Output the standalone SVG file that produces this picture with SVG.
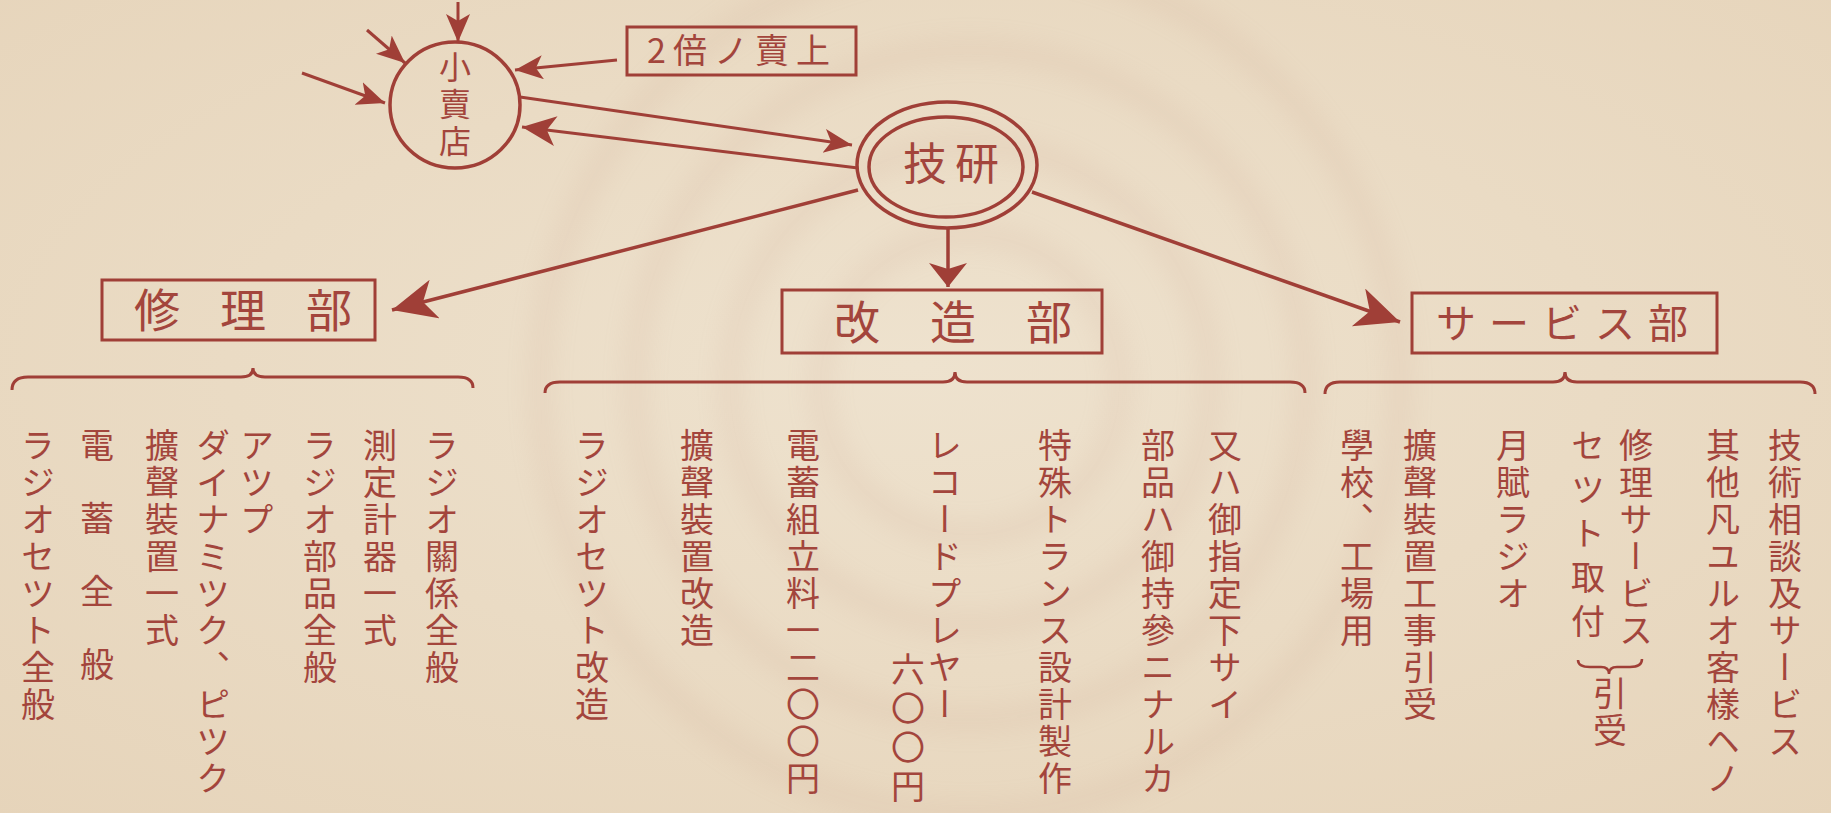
<svg xmlns="http://www.w3.org/2000/svg" width="1831" height="813" viewBox="0 0 1831 813">
<defs>
<radialGradient id="bg" cx="0.5" cy="0.45" r="0.75">
<stop offset="0" stop-color="#eee2ce"/>
<stop offset="1" stop-color="#e6d4ba"/>
</radialGradient>
<filter id="blur" x="-20%" y="-20%" width="140%" height="140%"><feGaussianBlur stdDeviation="12"/></filter>
<marker id="aL" markerUnits="userSpaceOnUse" markerWidth="46" markerHeight="42" refX="44" refY="20" orient="auto" viewBox="0 0 46 42">
<path d="M0,0 L44,20 L0,40 L12,20 z" fill="#a03f37"/>
</marker>
<marker id="aM" markerUnits="userSpaceOnUse" markerWidth="36" markerHeight="32" refX="34" refY="15" orient="auto" viewBox="0 0 36 32">
<path d="M0,0 L34,15 L0,30 L9,15 z" fill="#a03f37"/>
</marker>
<marker id="aS" markerUnits="userSpaceOnUse" markerWidth="30" markerHeight="26" refX="28" refY="12" orient="auto" viewBox="0 0 30 26">
<path d="M0,0 L28,12 L0,24 L7,12 z" fill="#a03f37"/>
</marker>
<marker id="aV" markerUnits="userSpaceOnUse" markerWidth="26" markerHeight="40" refX="24" refY="19" orient="auto" viewBox="0 0 26 40">
<path d="M0,0 L24,19 L0,38 L6,19 z" fill="#a03f37"/>
</marker>
</defs>
<style>
.ln { stroke:#a03f37; stroke-width:3; fill:none; }
.lw { stroke-width:3.5; }
.bx { stroke:#a03f37; stroke-width:3; fill:none; }
.el { stroke:#a03f37; stroke-width:3.5; fill:none; }
.t { font-family:"Noto Sans CJK JP","Noto Sans CJK SC",sans-serif; fill:#a3453c; }
.lab { font-size:46px; }
.v { writing-mode:vertical-rl; font-size:34px; letter-spacing:3px; }
</style>
<rect x="0" y="0" width="1831" height="813" fill="url(#bg)"/>
<g opacity="0.11" filter="url(#blur)" fill="none" stroke="#c0907a" stroke-width="24">
<circle cx="970" cy="385" r="150"/>
<circle cx="970" cy="385" r="240"/>
<circle cx="970" cy="385" r="335"/>
<circle cx="970" cy="385" r="430"/>
</g>

<g id="connectors">
<line class="ln" x1="458" y1="2" x2="458" y2="42" marker-end="url(#aS)"/>
<line class="ln" x1="367" y1="30" x2="405" y2="63" marker-end="url(#aS)"/>
<line class="ln" x1="302" y1="73" x2="385" y2="103" marker-end="url(#aS)"/>
<line class="ln" x1="617" y1="60" x2="515" y2="70" marker-end="url(#aS)"/>
<line class="ln" x1="520" y1="97" x2="852" y2="145" marker-end="url(#aS)"/>
<line class="ln" x1="858" y1="168" x2="522" y2="127" marker-end="url(#aM)"/>
<line class="ln lw" x1="858" y1="190" x2="392" y2="310" marker-end="url(#aL)"/>
<line class="ln lw" x1="948" y1="228" x2="948" y2="287" marker-end="url(#aV)"/>
<line class="ln lw" x1="1032" y1="192" x2="1400" y2="322" marker-end="url(#aL)"/>
</g>

<g id="n-kouriten">
<ellipse class="el" cx="455" cy="105" rx="65" ry="63"/>
<text class="t v" x="455" y="51" style="font-size:32px;letter-spacing:5px">小賣店</text>
</g>

<g id="n-nibai">
<rect class="bx" x="627" y="27" width="229" height="48"/>
<text class="t" x="742" y="63" text-anchor="middle" style="font-size:34px;letter-spacing:7px">2倍ノ賣上</text>
</g>

<g id="n-giken">
<ellipse class="el" cx="947" cy="165" rx="90" ry="63"/>
<ellipse class="el" cx="946" cy="167" rx="77" ry="50"/>
<text class="t" x="955" y="180" text-anchor="middle" style="font-size:44px;letter-spacing:8px">技研</text>
</g>

<g id="n-shuuri">
<rect class="bx" x="102" y="280" width="273" height="60"/>
<text class="t lab" x="134" y="327" style="letter-spacing:40px">修理部</text>
</g>

<g id="n-kaizou">
<rect class="bx" x="782" y="290" width="320" height="63"/>
<text class="t lab" x="834" y="339" style="letter-spacing:50px">改造部</text>
</g>

<g id="n-service">
<rect class="bx" x="1412" y="293" width="305" height="60"/>
<text class="t" x="1436" y="338" style="font-size:40px;letter-spacing:13px">サービス部</text>
</g>

<g id="list-shuuri">
<path class="ln" d="M12,390 Q12,377 28,377 L241,377 Q253,377 253,368 Q253,377 265,377 L458,377 Q473,377 473,388"/>
<text class="t v" x="442" y="428">ラジオ關係全般</text>
<text class="t v" x="380" y="428">測定計器一式</text>
<text class="t v" x="320" y="428">ラジオ部品全般</text>
<text class="t v" x="257" y="428">アツプ</text>
<text class="t v" x="213" y="428">ダイナミツク、ピツク</text>
<text class="t v" x="162" y="428">擴聲裝置一式</text>
<text class="t v" x="97" y="428" style="letter-spacing:39px">電蓄全般</text>
<text class="t v" x="38" y="428">ラジオセツト全般</text>
</g>

<g id="list-kaizou">
<path class="ln" d="M545,393 Q545,382 560,382 L943,382 Q955,382 955,372 Q955,382 967,382 L1290,382 Q1305,382 1305,393"/>
<text class="t v" x="1225" y="428">又ハ御指定下サイ</text>
<text class="t v" x="1158" y="428">部品ハ御持參ニナルカ</text>
<text class="t v" x="1055" y="428">特殊トランス設計製作</text>
<text class="t v" x="945" y="428">レコードプレヤー</text>
<text class="t v" x="908" y="652" style="letter-spacing:5px">六〇〇円</text>
<text class="t v" x="803" y="428">電蓄組立料一二〇〇円</text>
<text class="t v" x="697" y="428">擴聲裝置改造</text>
<text class="t v" x="592" y="428">ラジオセツト改造</text>
</g>

<g id="list-service">
<path class="ln" d="M1325,394 Q1325,382 1340,382 L1553,382 Q1565,382 1565,372 Q1565,382 1577,382 L1800,382 Q1815,382 1815,394"/>
<text class="t v" x="1785" y="428">技術相談及サービス</text>
<text class="t v" x="1723" y="428">其他凡ユルオ客樣ヘノ</text>
<text class="t v" x="1636" y="428">修理サービス</text>
<text class="t v" x="1588" y="428" style="letter-spacing:10px">セツト取付</text>
<path class="ln" d="M1578,660 Q1578,667 1590,667 L1601,667 Q1609,667 1609,674 Q1609,667 1617,667 L1630,667 Q1642,667 1642,659" style="stroke-width:2.5"/>
<text class="t v" x="1610" y="676">引受</text>
<text class="t v" x="1513" y="428">月賦ラジオ</text>
<text class="t v" x="1420" y="428">擴聲裝置工事引受</text>
<text class="t v" x="1357" y="428">學校、工場用</text>
</g>
</svg>
